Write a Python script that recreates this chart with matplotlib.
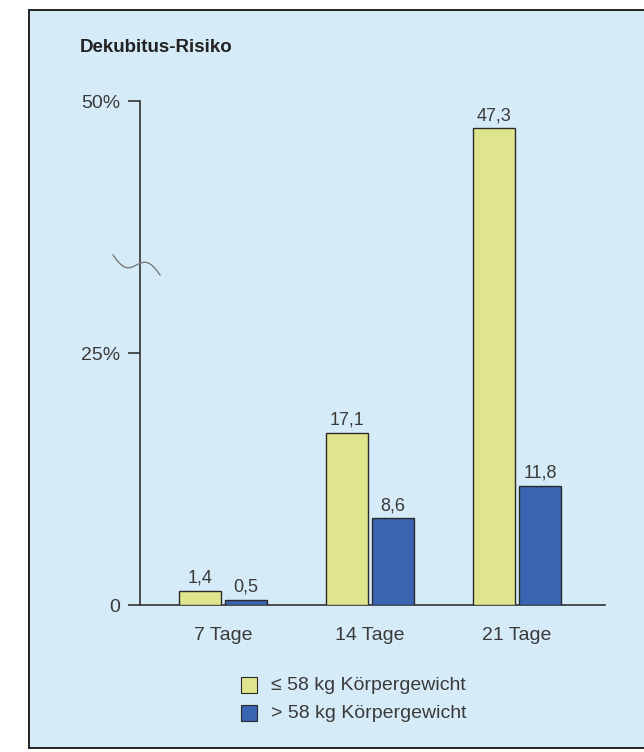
import matplotlib.pyplot as plt
import numpy as np
from matplotlib.patches import Rectangle

plt.rcParams["font.family"] = ["Liberation Sans", "DejaVu Sans"]

categories = ["7 Tage", "14 Tage", "21 Tage"]
light_values = [1.4, 17.1, 47.3]
heavy_values = [0.5, 8.6, 11.8]
series_labels = ["\u2264 58 kg Körpergewicht", "> 58 kg Körpergewicht"]
ytick_values = [0, 25, 50]
ytick_labels = ["0", "25%", "50%"]

BG = "#d6ebf8"
YELLOW = "#dfe58c"
BLUE = "#3b64b3"
INK = "#3a3a3a"

W, H = 644, 752
fig = plt.figure(figsize=(W / 100, H / 100), dpi=100)
fig.patch.set_facecolor("white")


def fx(px):
    return px / W


def fy(py):
    return 1 - py / H


# panel frame, kept behind the axes
fig.patches.append(Rectangle((fx(29), fy(748)), 1.2, fy(10) - fy(748), transform=fig.transFigure,
                             facecolor=BG, edgecolor="#222222", lw=1.4, zorder=-5))

ax = fig.add_axes([fx(140), fy(605), fx(605) - fx(140), fy(101) - fy(605)])
ax.set_facecolor("none")
ax.set_zorder(2)

x = np.arange(len(categories))
width = 0.286
offset = 0.157
ax.bar(x - offset, light_values, width, color=YELLOW, edgecolor="#2a2a2a", lw=1.0, zorder=3)
ax.bar(x + offset, heavy_values, width, color=BLUE, edgecolor="#2a2a2a", lw=1.0, zorder=3)

for xi, v in zip(x - offset, light_values):
    ax.annotate(f"{v:.1f}".replace(".", ","), (xi, v), xytext=(0, 3), textcoords="offset points",
                ha="center", va="bottom", fontsize=13, color=INK)
for xi, v in zip(x + offset, heavy_values):
    ax.annotate(f"{v:.1f}".replace(".", ","), (xi, v), xytext=(0, 3), textcoords="offset points",
                ha="center", va="bottom", fontsize=13, color=INK)

ax.set_xlim(-0.565, 2.6)
ax.set_ylim(0, 50)
for side in ("top", "right"):
    ax.spines[side].set_visible(False)
for side in ("left", "bottom"):
    ax.spines[side].set_color("#333333")
    ax.spines[side].set_linewidth(1.2)

ax.set_yticks(ytick_values)
ax.set_yticklabels(ytick_labels, fontsize=14, color=INK)
ax.tick_params(axis="y", length=9, width=1.2, color="#333333", pad=5)
ax.set_xticks(x)
ax.set_xticklabels(categories, fontsize=14, color=INK)
ax.tick_params(axis="x", length=0, pad=16)

# axis break mark
t = np.linspace(0, 1, 80)
sx = 113 + 47 * t
sy = 255 + 20 * t + 7 * np.sin(2 * np.pi * t)
fig.add_artist(plt.Line2D(fx(sx), fy(sy), transform=fig.transFigure, color="#7a7a7a", lw=1.0,
                          zorder=5))

fig.text(fx(80), fy(47), "Dekubitus-Risiko", fontsize=13.5, fontweight="bold", color="#222222",
         ha="left", va="center")

# legend
for i, (label, color) in enumerate(zip(series_labels, [YELLOW, BLUE])):
    cy = 685 + 28 * i
    fig.patches.append(Rectangle((fx(241), fy(cy + 8)), fx(16), fy(cy - 8) - fy(cy + 8),
                                 transform=fig.transFigure, facecolor=color,
                                 edgecolor="#2a2a2a", lw=0.8))
    fig.text(fx(271), fy(cy), label, fontsize=14, color=INK, ha="left", va="center")

fig.savefig("out.png", dpi=100)
